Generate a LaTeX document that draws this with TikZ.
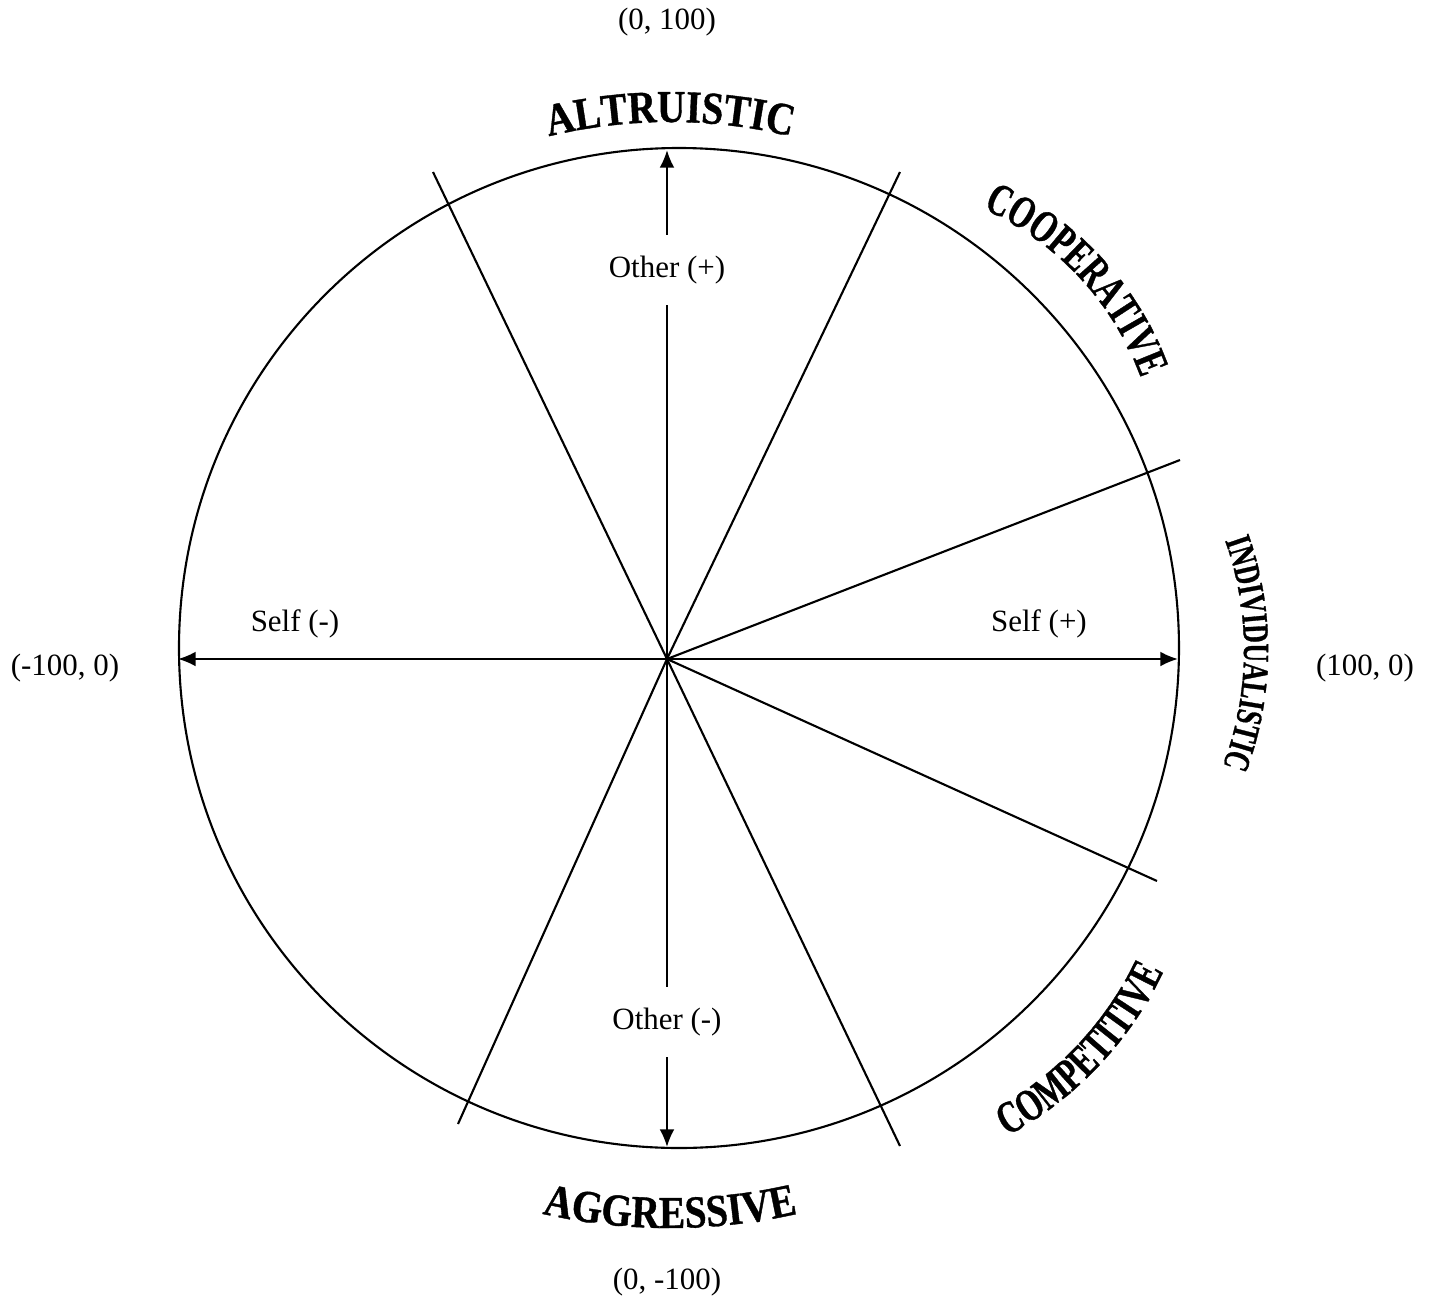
\documentclass[tikz,border=0pt]{standalone}
\usepackage{fontspec}
\setmainfont{Liberation Serif}
\newfontfamily\arcwide{Liberation Serif Bold}[FakeStretch=0.86,FakeBold=0.8]
\newfontfamily\arcnarrow{Liberation Serif Bold}[FakeStretch=0.7,FakeBold=0.8]
\usetikzlibrary{arrows.meta,decorations.text}
\begin{document}
\begin{tikzpicture}[>={Latex[length=5pt,width=4.2pt]}, line width=0.6pt,
  axislabel/.style={font=\fontsize{8.8}{10}\selectfont, inner sep=1pt},
  arclabel/.style={decorate, decoration={text along path, text align=center, text={#1}}}]
  \useasboundingbox (-6.67,-6.45) rectangle (7.67,6.59);
  \coordinate (O) at (0,0);
  \draw (0.12,0.11) circle[radius=5];
  % sector boundaries
  \foreach \x/\y [count=\i] in {-2.34/4.87, 2.33/4.87, 5.13/1.99, 4.90/-2.22, 2.33/-4.87, -2.09/-4.65} {
    \coordinate (s\i) at (\x,\y);
    \draw (O) -- (s\i);
  }
  % axes
  \coordinate (xl) at (-4.89,0);
  \coordinate (xr) at (5.11,0);
  \coordinate (yt) at (0,5.09);
  \coordinate (yb) at (0,-4.88);
  \draw[<->] (xl) -- (xr);
  \node[axislabel, fill=white, inner ysep=0.2cm] (otherp) at (0,3.89) {Other (+)};
  \draw (O) -- (otherp.south);
  \draw[->] (otherp.north) -- (yt);
  \node[axislabel, fill=white, inner ysep=0.2cm] (otherm) at (0,-3.63) {Other (-)};
  \draw (O) -- (otherm.north);
  \draw[->] (otherm.south) -- (yb);
  \node[axislabel] (selfm) at (-3.72,0.35) {Self (-)};
  \node[axislabel] (selfp) at (3.72,0.35) {Self (+)};
  % end values
  \node[axislabel] (top) at (0,6.37) {(0, 100)};
  \node[axislabel] (bottom) at (0,-6.23) {(0, -100)};
  \node[axislabel] (left) at (-6.02,-0.09) {(-100, 0)};
  \node[axislabel] (right) at (6.98,-0.09) {(100, 0)};
  % orientations
  \path[arclabel={|\arcwide\fontsize{13}{15}\selectfont|ALTRUISTIC}]
    ([shift={(130:5.16)}]0.03,0.21) arc[start angle=130, end angle=50, radius=5.16];
  \path[arclabel={|\arcnarrow\fontsize{13}{15}\selectfont|COOPERATIVE}]
    ([shift={(83:2.97)}]1.95,1.79) arc[start angle=83, end angle=3, radius=2.97];
  \path[arclabel={|\arcnarrow\fontsize{10.5}{12}\selectfont|INDIVIDUALISTIC}]
    ([shift={(39.4:3.25)}]2.52,0.09) arc[start angle=39.4, end angle=-40.6, radius=3.25];
  \path[arclabel={|\arcnarrow\fontsize{13}{15}\selectfont|COMPETITIVE}]
    ([shift={(-83.5:3.62)}]1.69,-1.58) arc[start angle=-83.5, end angle=-3.5, radius=3.62];
  \path[arclabel={|\arcwide\fontsize{13}{15}\selectfont|AGGRESSIVE}]
    ([shift={(-130:5.75)}]0.03,0.06) arc[start angle=-130, end angle=-50, radius=5.75];
\end{tikzpicture}
\end{document}
